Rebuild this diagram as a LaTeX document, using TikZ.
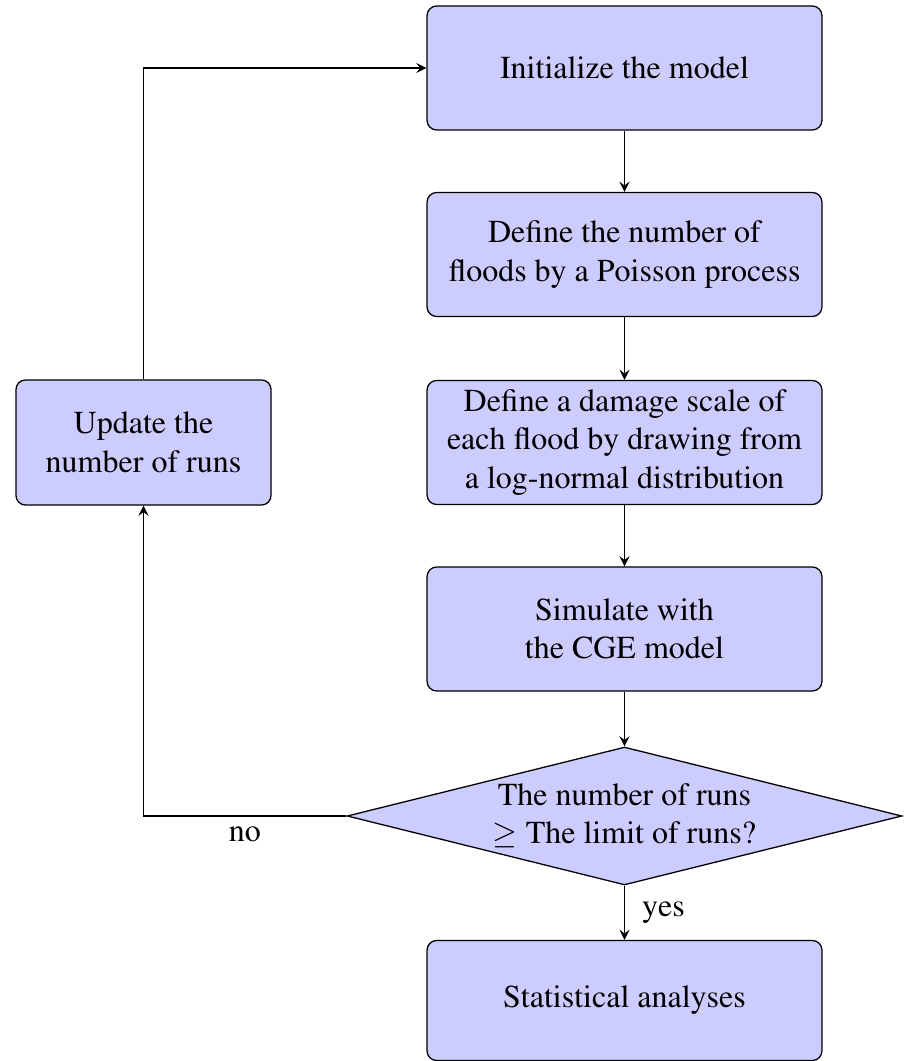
\documentclass[tikz,border=0pt]{standalone}
\usepackage[T1]{fontenc}
\usepackage{mathptmx}
\usetikzlibrary{shapes.geometric,arrows}
\tikzset{
  procbox/.style={draw, fill=blue!20, rounded corners=3pt, inner sep=0pt,
    minimum width=123.4pt, minimum height=38.75pt, align=center},
  sidebox/.style={procbox, minimum width=79.7pt, minimum height=39.1pt},
  decision/.style={draw, fill=blue!20, diamond, inner sep=0pt,
    minimum width=173.4pt, minimum height=43.1pt},
  flow/.style={draw, -stealth}
}
\begin{document}
\begin{tikzpicture}[x=0.3125pt, y=-0.3125pt]
\useasboundingbox (0,0) rectangle (905,1061);
\node[procbox] (init) at (624.5,68) {Initialize the model};
\node[procbox] (pois) at (624.5,254.5) {Define the number of\\floods by a Poisson process};
\node[procbox] (dmg) at (624.5,442.5) {Define a damage scale of\\each flood by drawing from\\a log-normal distribution};
\node[procbox] (sim) at (624.5,629) {Simulate with\\the CGE model};
\node[decision] (dec) at (624.5,816) {};
\node[align=center] (dectext) at (dec.center) {The number of runs\\$\geq$ The limit of runs?};
\node[procbox, minimum height=37.5pt] (stat) at (624.5,1000.5) {Statistical analyses};
\node[sidebox] (upd) at (143.5,442.5) {Update the\\number of runs};
\draw[flow] (init) -- (pois);
\draw[flow] (pois) -- (dmg);
\draw[flow] (dmg) -- (sim);
\draw[flow] (sim) -- (dec);
\draw[flow] (dec) -- node[right, xshift=2pt] (yes) {yes} (stat);
\draw[flow] (dec.west) -| node[pos=0.25, below] (no) {no} (upd.south);
\draw[flow] (upd.north) |- (init.west);
\end{tikzpicture}
\end{document}
